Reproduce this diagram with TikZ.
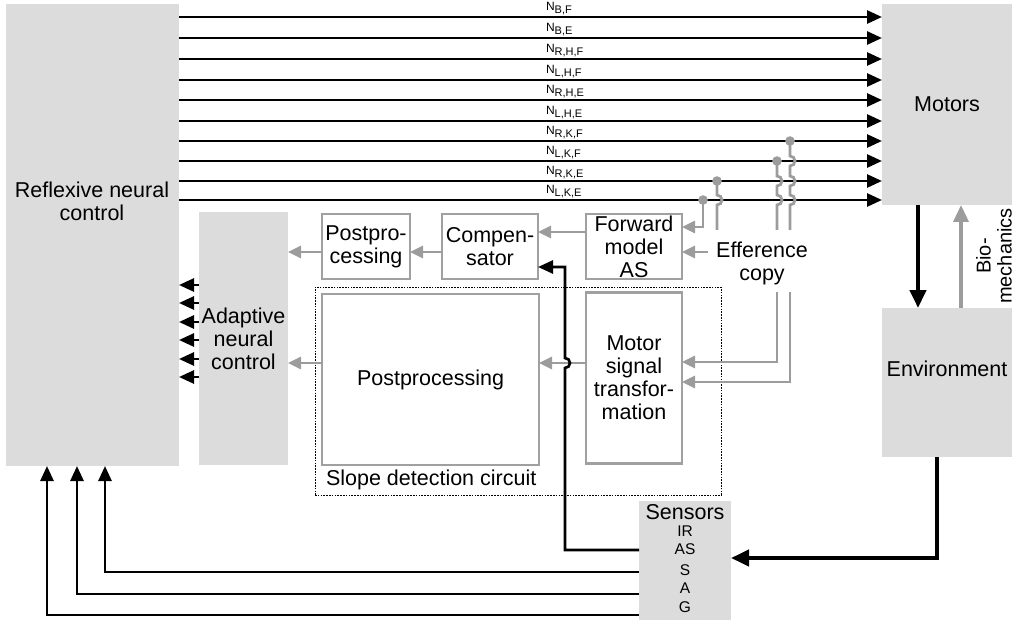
\documentclass[tikz,border=0pt]{standalone}
\usepackage{fontspec}
\setmainfont{Liberation Sans}
\usetikzlibrary{arrows.meta}
\definecolor{panelgray}{HTML}{DCDCDC}
\definecolor{wiregray}{HTML}{9C9C9C}
\definecolor{framegray}{HTML}{A0A0A0}
\begin{document}
\begin{tikzpicture}[x=1pt,y=-1pt,
  every node/.style={inner sep=0pt, outer sep=0pt},
  bigfont/.style={font=\fontsize{21.5}{23}\selectfont},
  panelbox/.style={fill=panelgray, draw=none},
  unitbox/.style={draw=framegray, line width=2.6pt, fill=white, align=center, bigfont},
  sigline/.style={draw=black, line width=2.7pt, -{Triangle[length=15pt,width=13pt]}},
  fbline/.style={draw=wiregray, line width=2.8pt, -{Triangle[length=13pt,width=12pt]}},
  tapline/.style={draw=wiregray, line width=2.8pt},
  heavyline/.style={draw=black, line width=4.2pt, -{Triangle[length=18pt,width=16pt]}},
  ]
\useasboundingbox (0,0) rectangle (1014,620);

% grey panels
\node[panelbox, minimum width=173pt, minimum height=462pt] (refl) at (92.5,235) {};
\node[bigfont, align=center] (reflT) at (92,201) {Reflexive neural\\control};
\node[panelbox, minimum width=130pt, minimum height=201pt, bigfont] (motors) at (947,104.5) {Motors};
\node[panelbox, minimum width=130pt, minimum height=149pt] (env) at (947,382.5) {};
\node[bigfont] (envT) at (947,369) {Environment};
\node[panelbox, minimum width=89pt, minimum height=253pt, bigfont, align=center] (adapt) at (243.5,338.5) {Adaptive\\neural\\control};
\node[panelbox, minimum width=92pt, minimum height=119pt] (sens) at (685,560.5) {};
\node[bigfont] (sensT) at (685,512) {Sensors};
\foreach \t/\yy in {IR/531,AS/549,S/570,A/588,G/607}
  \node[font=\fontsize{15.5}{16}\selectfont] (sens\t) at (685,\yy) {\t};

% slope detection circuit
\node[draw, line width=0.9pt, dash pattern=on 1.6pt off 1.2pt, minimum width=406pt, minimum height=208pt] (sdc) at (518,391) {};
\node[bigfont, anchor=west] (sdcT) at (326,480) {Slope detection circuit};

% processing units
\node[unitbox, minimum width=88pt, minimum height=65pt] (pp1) at (366,246.5) {Postpro-\\cessing};
\node[unitbox, minimum width=96pt, minimum height=65pt] (comp) at (490,246.5) {Compen-\\sator};
\node[unitbox, minimum width=96pt, minimum height=65pt] (fwd) at (634,246.5) {Forward\\model\\AS};
\node[unitbox, minimum width=217pt, minimum height=171pt] (pp2) at (430.5,379.5) {Postprocessing};
\node[unitbox, minimum width=96pt, minimum height=171pt] (msig) at (634,378) {Motor\\signal\\transfor-\\mation};
\node[bigfont, align=center] (effc) at (762,263) {Efference\\copy};

% motor neuron outputs
\foreach \y/\s [count=\i] in {17/{B,F},38/{B,E},59/{R,H,F},80/{L,H,F},100/{R,H,E},121/{L,H,E},141/{R,K,F},161/{L,K,F},181/{R,K,E},200/{L,K,E}} {
  \coordinate (r\i) at (0,\y);
  \draw[sigline] (refl.east |- r\i) -- (motors.west |- r\i);
  \node[anchor=base west, font=\fontsize{12}{13}\selectfont] (lab\i) at (546,\y-6.5) {N\raisebox{-3pt}{\fontsize{11}{12}\selectfont\s}};
}

% efference copy taps
\coordinate (tpA) at (790,141);
\coordinate (tpB) at (777,161);
\coordinate (tpC) at (717,181);
\coordinate (tpD) at (703,200);
\coordinate (effA) at (790,230);
\coordinate (effB) at (777,230);
\coordinate (effC) at (717,230);
\coordinate (effA2) at (790,292);
\coordinate (effB2) at (777,292);
\coordinate (effIn) at (708,252);
\draw[tapline] (tpA) -- (790,156) arc[start angle=-90,end angle=90,radius=5]
  -- (790,176) arc[start angle=-90,end angle=90,radius=5]
  -- (790,195) arc[start angle=-90,end angle=90,radius=5] -- (effA);
\draw[tapline] (tpB) -- (777,176) arc[start angle=-90,end angle=90,radius=5]
  -- (777,195) arc[start angle=-90,end angle=90,radius=5] -- (effB);
\draw[tapline] (tpC) -- (717,195) arc[start angle=-90,end angle=90,radius=5] -- (effC);
\draw[fbline] (tpD) |- (fwd.east |- 0,227);
\foreach \p in {tpA,tpB,tpC,tpD} \fill[wiregray] (\p) circle (4.8);
\draw[fbline] (effIn) -- (fwd.east |- effIn);
\draw[fbline] (effB2) |- (msig.east |- 0,362);
\draw[fbline] (effA2) |- (msig.east |- 0,382);

% internal signal flow
\draw[fbline] (fwd.west |- 0,232) -- (comp.east |- 0,232);
\draw[fbline] (comp.west |- 0,252) -- (pp1.east |- 0,252);
\draw[fbline] (pp1.west |- 0,252) -- (adapt.east |- 0,252);
\draw[fbline] (msig.west |- 0,363) -- (pp2.east |- 0,363);
\draw[fbline] (pp2.west |- 0,363) -- (adapt.east |- 0,363);

% adaptive to reflexive control
\foreach \y in {285,303,322,340,359,377}
  \draw[sigline] (adapt.west |- 0,\y) -- (refl.east |- 0,\y);

% acceleration sensor to compensator
\draw[sigline] (sens.west |- 0,550) -- (565,550) -- (565,368)
  arc[start angle=90,end angle=-90,radius=5] -- (565,267) -- (comp.east |- 0,267);

% sensory feedback to reflexive control
\draw[sigline] (sens.west |- 0,572) -| (refl.south -| 105,0);
\draw[sigline] (sens.west |- 0,594) -| (refl.south -| 77,0);
\draw[sigline] (sens.west |- 0,615) -| (refl.south -| 47,0);

% body and environment loop
\draw[heavyline] (motors.south -| 918,0) -- (env.north -| 918,0);
\draw[fbline, line width=3.5pt, -{Triangle[length=17pt,width=15pt]}] (env.north -| 961,0) -- (motors.south -| 961,0);
\node[font=\fontsize{20}{21}\selectfont, align=center, rotate=90] (bio) at (994,256) {Bio-\\mechanics};
\draw[heavyline] (env.south -| 937,0) |- (sens.east |- 0,558);
\end{tikzpicture}
\end{document}
